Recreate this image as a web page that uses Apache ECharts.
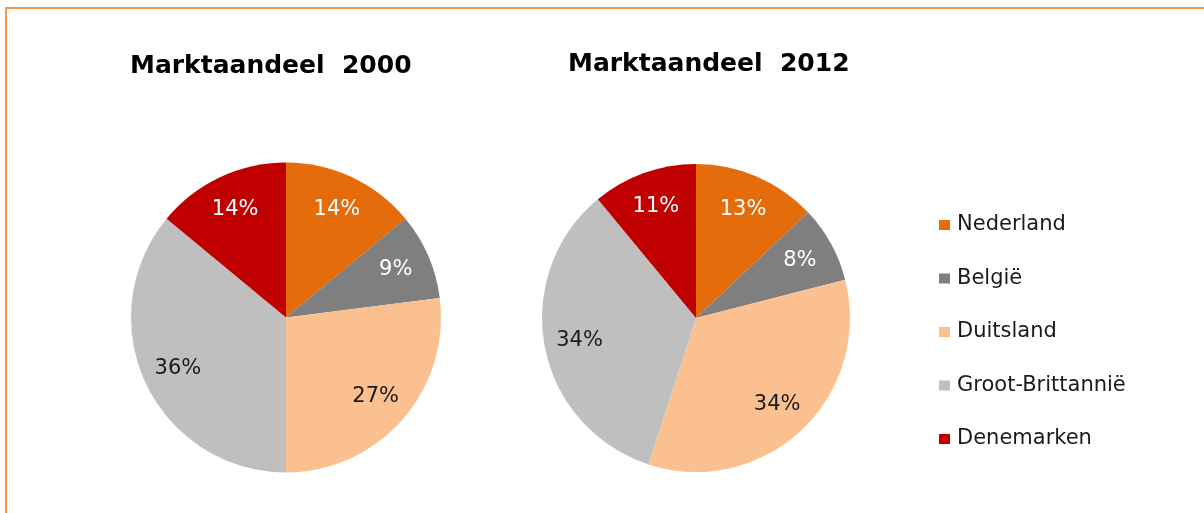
<!DOCTYPE html>
<html>
<head>
<meta charset="utf-8">
<script src="https://cdn.jsdelivr.net/npm/echarts@6/dist/echarts.min.js"></script>
<style>
html,body{margin:0;padding:0;background:#fff;}
#chart{width:1204px;height:513px;}
</style>
</head>
<body>
<div id="chart"></div>
<script>
const categories = ['Nederland', 'België', 'Duitsland', 'Groot-Brittannië', 'Denemarken'];
const values2000 = [14, 9, 27, 36, 14];
const values2012 = [13, 8, 34, 34, 11];
const titles = ['Marktaandeel  2000', 'Marktaandeel  2012'];

const colors = ['#E46C0A', '#7F7F7F', '#FAC090', '#BFBFBF', '#C00000'];
const labelColors = ['#ffffff', '#ffffff', '#1a1a1a', '#1a1a1a', '#ffffff'];
const FONT = '"DejaVu Sans", Verdana, sans-serif';

function pieData(vals) {
  return categories.map((n, i) => ({ name: n, value: vals[i], itemStyle: { color: colors[i] } }));
}
function labelData(vals) {
  return categories.map((n, i) => ({
    name: n, value: vals[i],
    itemStyle: { color: 'rgba(0,0,0,0)' },
    label: { color: labelColors[i] }
  }));
}
function pieSeries(vals, center, r) {
  return [{
    type: 'pie', name: 'pie', center: center, radius: [0, r],
    startAngle: 90, clockwise: true, avoidLabelOverlap: false,
    label: { show: false }, labelLine: { show: false },
    emphasis: { disabled: true }, animation: false,
    data: pieData(vals)
  }, {
    type: 'pie', name: 'labels', center: center, radius: [Math.round(r * 0.5), r],
    startAngle: 90, clockwise: true, avoidLabelOverlap: false, silent: true,
    label: { show: true, position: 'inside', formatter: '{c}%', fontSize: 21, fontFamily: FONT },
    labelLine: { show: false },
    emphasis: { disabled: true }, animation: false,
    data: labelData(vals)
  }];
}

const chart = echarts.init(document.getElementById('chart'));
chart.setOption({
  backgroundColor: '#fff',
  animation: false,
  title: [
    { text: titles[0], left: 130, top: 54, padding: 0,
      textStyle: { fontFamily: FONT, fontSize: 25, fontWeight: 'bold', color: '#000' } },
    { text: titles[1], left: 568, top: 52, padding: 0,
      textStyle: { fontFamily: FONT, fontSize: 25, fontWeight: 'bold', color: '#000' } }
  ],
  legend: {
    orient: 'vertical', left: 939, top: 214.5, padding: 0,
    icon: 'rect', itemWidth: 11, itemHeight: 10, itemGap: 32.5,
    selectedMode: false,
    textStyle: { fontFamily: FONT, fontSize: 21, color: '#1a1a1a', lineHeight: 21, padding: [0, 0, 0, 2] },
    data: categories.map((n, i) => ({ name: n, itemStyle: { color: colors[i] } }))
  },
  graphic: [{
    type: 'rect', silent: true, z: -1,
    shape: { x: 6, y: 8, width: 1400, height: 700 },
    style: { fill: 'none', stroke: '#F79646', lineWidth: 2 }
  }],
  series: [].concat(
    pieSeries(values2000, [286, 317.5], 155),
    pieSeries(values2012, [696, 318], 154)
  )
});
</script>
</body>
</html>
